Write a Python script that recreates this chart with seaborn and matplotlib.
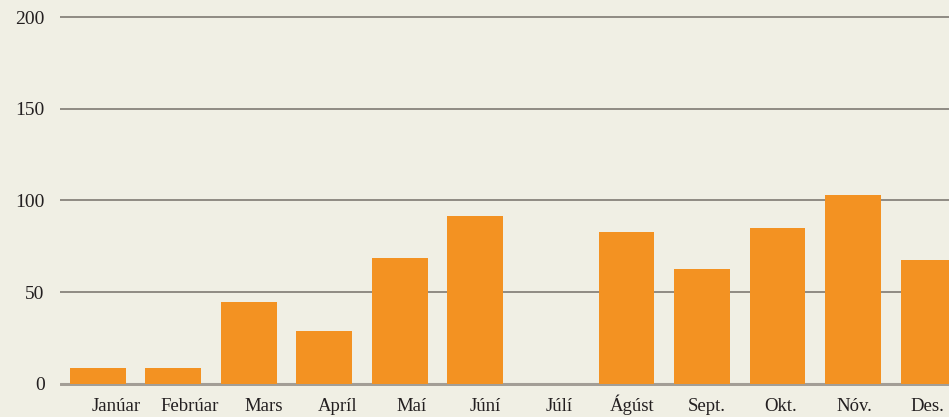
import matplotlib
matplotlib.use('Agg')
import matplotlib.pyplot as plt
import numpy as np
import pandas as pd
import seaborn as sns

# monthly values
months = ['Janúar', 'Febrúar', 'Mars', 'Apríl', 'Maí', 'Júní',
          'Júlí', 'Ágúst', 'Sept.', 'Okt.', 'Nóv.', 'Des.']
values = [8.5, 8.5, 44.6, 28.7, 68.6, 91.5, 0, 82.7, 62.6, 84.9, 102.9, 67.5]
yticks = [0, 50, 100, 150, 200]

bg = '#f0efe4'
bar_color = '#f39222'
grid_color = '#7f7a72'

sns.set_style('white')
plt.rcParams['font.family'] = ['Liberation Serif', 'DejaVu Serif']

df = pd.DataFrame({'month': months, 'value': values})

fig = plt.figure(figsize=(9.49, 4.17), dpi=100)
fig.patch.set_facecolor(bg)
ax = fig.add_axes([60 / 949, 0.0755, 1 - 60 / 949, 0.9636 - 0.0755])
ax.set_facecolor(bg)

# gridlines behind the bars
for t in yticks[1:]:
    ax.axhline(t, color=grid_color, lw=1.2, zorder=0)
ax.axhline(0, color='#a39e96', lw=2.2, zorder=0)

sns.barplot(data=df, x='month', y='value', color=bar_color, saturation=1,
            width=0.74, linewidth=0, ax=ax, zorder=2)

ax.set_xlim(-0.5, 11.27)
ax.set_ylim(-1, 201)
ax.set_yticks(yticks)
ax.set_yticklabels([str(t) for t in yticks], fontsize=14, color='#231f20')

# month labels are spaced a little tighter than the bars
ax.set_xticks(np.linspace(0.24, 10.99, len(months)))
ax.set_xticklabels(months, fontsize=13.5, color='#231f20', va='baseline')
ax.tick_params(axis='both', length=0)
ax.tick_params(axis='x', pad=18)
ax.tick_params(axis='y', pad=11)
ax.set_xlabel('')
ax.set_ylabel('')
for s in ax.spines.values():
    s.set_visible(False)

fig.savefig('out.png', dpi=100, facecolor=bg)
